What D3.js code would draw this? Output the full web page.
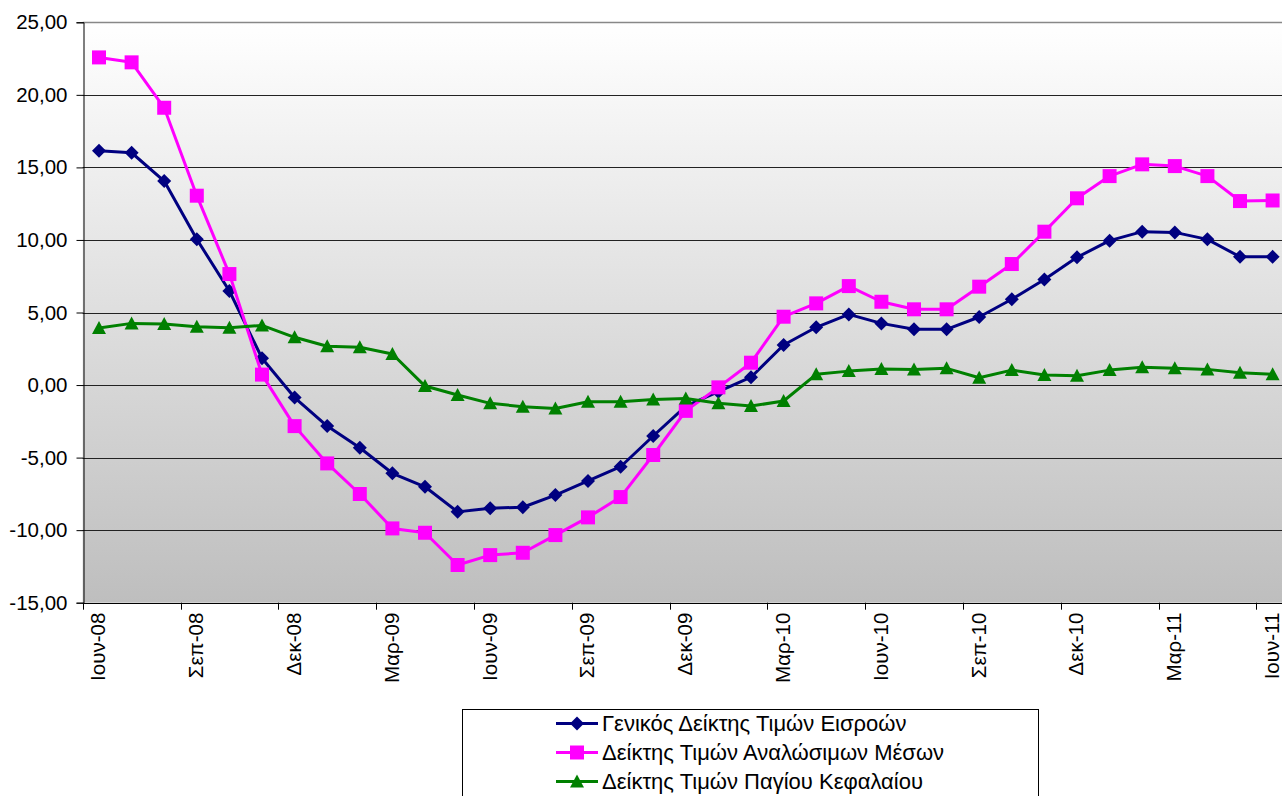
<!DOCTYPE html>
<html>
<head>
<meta charset="utf-8">
<script src="https://cdn.jsdelivr.net/npm/d3@7"></script>
<style>
html,body{margin:0;padding:0;background:#fff;overflow:hidden;}
svg{display:block;font-family:"Liberation Sans",Arial,sans-serif;}
</style>
</head>
<body>
<svg id="chart" width="1282" height="796"></svg>
<script>
const categories = [
 "Ιουν-08","Ιουλ-08","Αυγ-08","Σεπ-08","Οκτ-08","Νοε-08","Δεκ-08","Ιαν-09","Φεβ-09","Μαρ-09","Απρ-09","Μαϊ-09",
 "Ιουν-09","Ιουλ-09","Αυγ-09","Σεπ-09","Οκτ-09","Νοε-09","Δεκ-09","Ιαν-10","Φεβ-10","Μαρ-10","Απρ-10","Μαϊ-10",
 "Ιουν-10","Ιουλ-10","Αυγ-10","Σεπ-10","Οκτ-10","Νοε-10","Δεκ-10","Ιαν-11","Φεβ-11","Μαρ-11","Απρ-11","Μαϊ-11","Ιουν-11"
];
const seriesNames = [
 "Γενικός Δείκτης Τιμών Εισροών",
 "Δείκτης Τιμών Αναλώσιμων Μέσων",
 "Δείκτης Τιμών Παγίου Κεφαλαίου"
];
const generalIndex = [16.15,16.01,14.06,10.05,6.48,1.85,-0.86,-2.83,-4.32,-6.08,-7.01,-8.74,
 -8.49,-8.42,-7.58,-6.61,-5.63,-3.51,-1.45,-0.46,0.54,2.76,3.98,4.87,
 4.25,3.84,3.84,4.69,5.91,7.28,8.80,9.95,10.57,10.52,10.04,8.84,8.84];
const consumablesIndex = [22.58,22.24,19.11,13.05,7.65,0.72,-2.83,-5.40,-7.51,-9.88,-10.18,-12.40,
 -11.72,-11.56,-10.34,-9.12,-7.72,-4.82,-1.78,-0.16,1.54,4.71,5.63,6.82,
 5.74,5.22,5.22,6.78,8.34,10.57,12.87,14.40,15.21,15.09,14.40,12.68,12.72];
const capitalIndex = [3.93,4.25,4.20,4.02,3.95,4.11,3.29,2.67,2.60,2.14,-0.07,-0.69,
 -1.26,-1.49,-1.61,-1.15,-1.15,-0.99,-0.92,-1.26,-1.45,-1.10,0.74,0.96,
 1.10,1.08,1.15,0.50,1.03,0.69,0.64,1.03,1.22,1.15,1.08,0.85,0.74];
const yTicks = [-15,-10,-5,0,5,10,15,20,25];
const xLabelEvery = 3;

(function(){
const colors = ["#000080","#FF00FF","#008000"];
const shapes = ["diamond","square","triangle"];
const seriesValues = [generalIndex, consumablesIndex, capitalIndex];

const svg = d3.select("#chart");
const mLeft = 82.7, mTop = 22.3, mBottom = 602.7, band = 32.6;
const x = d3.scaleBand().domain(categories).range([mLeft, mLeft + band*categories.length]).padding(0);
const y = d3.scaleLinear().domain([-15,25]).range([mBottom, mTop]);
const fmt = v => v.toFixed(2).replace(".", ",");

// background gradient
const defs = svg.append("defs");
const grad = defs.append("linearGradient").attr("id","bg").attr("x1",0).attr("y1",0).attr("x2",0).attr("y2",1);
grad.append("stop").attr("offset","0%").attr("stop-color","#ffffff");
grad.append("stop").attr("offset","100%").attr("stop-color","#bebebe");
svg.append("rect").attr("x",mLeft).attr("y",y(25)).attr("width",x.range()[1]-mLeft).attr("height",y(-15)-y(25)).attr("fill","url(#bg)");

// gridlines
svg.append("g").selectAll("line").data(yTicks.filter(d=>d>-15)).join("line")
 .attr("x1",mLeft).attr("x2",x.range()[1])
 .attr("y1",d=>Math.round(y(d))+0.5).attr("y2",d=>Math.round(y(d))+0.5)
 .attr("stroke",d=>d===25?"#888":"#222").attr("stroke-width",d=>d===25?1.5:1);

// y axis
const yAxis = d3.axisLeft(y).tickValues(yTicks).tickFormat(fmt).tickSize(7).tickPadding(9);
const gy = svg.append("g").attr("transform",`translate(${Math.round(mLeft)+0.5},0)`).call(yAxis);
gy.select(".domain").attr("stroke","#000");
gy.selectAll(".tick line").attr("stroke","#000");
gy.selectAll("text").attr("font-size","20.5px").attr("fill","#000").attr("font-family","Liberation Sans, Arial, sans-serif");

// x axis: ticks at band boundaries, labels at band centers
const tickCats = categories.filter((d,i)=>i%xLabelEvery===0);
const gx = svg.append("g");
gx.append("line").attr("x1",mLeft).attr("x2",x.range()[1]).attr("y1",Math.round(mBottom)+0.5).attr("y2",Math.round(mBottom)+0.5).attr("stroke","#000");
gx.selectAll("line.t").data(tickCats).join("line").attr("class","t")
 .attr("x1",d=>Math.round(x(d))+0.5).attr("x2",d=>Math.round(x(d))+0.5)
 .attr("y1",mBottom).attr("y2",mBottom+7).attr("stroke","#000");
gx.selectAll("text").data(tickCats).join("text")
 .attr("transform",d=>`translate(${x(d)+x.bandwidth()/2+6.3},${mBottom+10}) rotate(-90)`)
 .attr("text-anchor","end").attr("font-size","20.5px").attr("fill","#000")
 .text(d=>d);

// series
function symbolPath(shape){
 if(shape==="diamond") return "M0,-7L7,0L0,7L-7,0Z";
 if(shape==="square") return "M-7,-7H7V7H-7Z";
 return "M0,-7L7,6L-7,6Z";
}
const line = d3.line().x((d,i)=>x(categories[i])+x.bandwidth()/2).y(d=>y(d));
seriesValues.forEach((vals,si)=>{
 const g = svg.append("g");
 g.append("path").datum(vals).attr("d",line).attr("fill","none").attr("stroke",colors[si]).attr("stroke-width",3).attr("stroke-linejoin","round");
 g.selectAll("path.m").data(vals).join("path").attr("class","m")
  .attr("transform",(d,i)=>`translate(${x(categories[i])+x.bandwidth()/2},${y(d)})`)
  .attr("d",symbolPath(shapes[si])).attr("fill",colors[si]);
});

// legend
const lg = svg.append("g");
lg.append("rect").attr("x",462.5).attr("y",709.5).attr("width",576).attr("height",100).attr("fill","#fff").attr("stroke","#000");
seriesNames.forEach((name,i)=>{
 const cy = 723.5 + i*29;
 lg.append("line").attr("x1",556).attr("x2",598).attr("y1",cy).attr("y2",cy).attr("stroke",colors[i]).attr("stroke-width",3);
 lg.append("path").attr("transform",`translate(577,${cy})`).attr("d",symbolPath(shapes[i])).attr("fill",colors[i]);
 lg.append("text").attr("x",602).attr("y",cy).attr("dy","0.36em").attr("font-size","22px").attr("fill","#000").text(name);
});
})();
</script>
</body>
</html>
